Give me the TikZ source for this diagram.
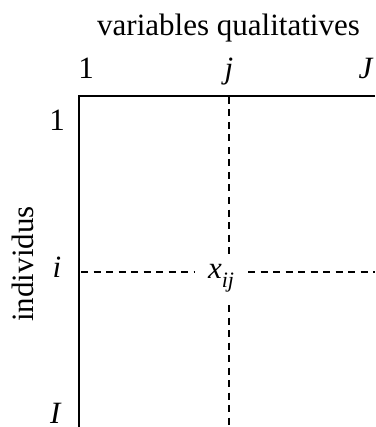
\documentclass[tikz,border=0pt]{standalone}
\usepackage{fontspec}
\setmainfont{Liberation Serif}
\begin{document}
\begin{tikzpicture}[x=1pt,y=-1pt,
  lbl/.style={anchor=base,inner sep=0pt,font=\fontsize{31}{36}\selectfont},
  frame/.style={line width=2.2pt,draw=black},
  guide/.style={line width=2.2pt,dash pattern=on 7pt off 5.5pt}]
\useasboundingbox (0,0) rectangle (375,427);
% labels
\node[lbl] (title) at (228.5,36) {variables qualitatives};
\node[lbl] (c1) at (86,79) {1};
\node[lbl] (cj) at (229,79) {\textit{j}};
\node[lbl] (cJ) at (366,79) {\textit{J}};
\node[lbl] (r1) at (57,131) {1};
\node[lbl] (ri) at (57,277) {\textit{i}};
\node[lbl] (rI) at (56,423.5) {\textit{I}};
\node[lbl,rotate=90] (ind) at (33,264) {individus};
\node[lbl] (xij) at (221,278) {\textit{x}\raisebox{-0.3em}{\fontsize{22}{22}\selectfont\textit{ij}}};
% frame
\coordinate (tl) at (79,96);
\coordinate (tr) at (375,96);
\coordinate (bl) at (79,428);
\draw[frame] (bl) -- (tl) -- (tr);
% guides
\coordinate (vt) at (229,97);
\coordinate (vm1) at (229,258);
\coordinate (vm2) at (229,305);
\coordinate (vb) at (229,428);
\coordinate (hl) at (81,272);
\coordinate (hm1) at (195,272);
\coordinate (hm2) at (248,272);
\coordinate (hr) at (375,272);
\draw[guide] (vt) -- (vm1);
\draw[guide] (vm2) -- (vb);
\draw[guide] (hl) -- (hm1);
\draw[guide] (hm2) -- (hr);
\end{tikzpicture}
\end{document}
